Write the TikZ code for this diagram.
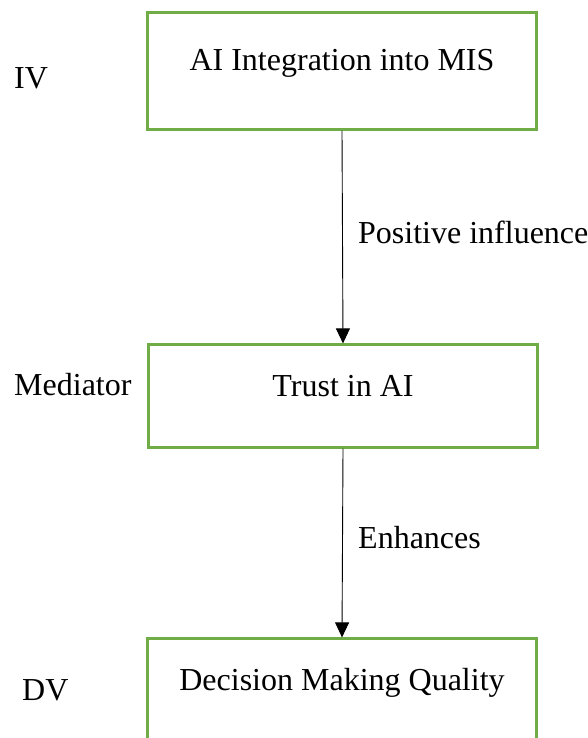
\documentclass[tikz,border=0pt]{standalone}
\usepackage{fontspec}
\setmainfont{Liberation Serif}
\usetikzlibrary{arrows.meta,positioning}
\definecolor{boxgreen}{RGB}{112,173,71}

\begin{document}
\begin{tikzpicture}[
    x=1pt, y=-1pt,
    >={Triangle[length=15pt,width=14pt]},
    box/.style={draw=boxgreen, line width=2.2pt, minimum width=389pt,
      font=\fontsize{32}{38}\selectfont, text height=22pt, inner sep=0pt},
    tag/.style={font=\fontsize{32}{38}\selectfont, anchor=west, inner sep=0pt},
    arw/.style={->, line width=0.9pt},
  ]
    \useasboundingbox (0,0) rectangle (588,738);

    % Boxes
    \node[box, minimum height=117pt, text depth=23pt] (ai) at (342,71) {AI Integration into MIS};
    \node[box, minimum height=103pt, text depth=21pt] (trust) at (343,396) {Trust in AI};
    \node[box, minimum height=103pt, text depth=21pt] (dmq) at (342,690) {Decision Making Quality};

    % Arrows between boxes
    \draw[arw] (ai.south) -- (trust.north);
    \draw[arw] (trust.south) -- (dmq.north);

    % Role labels
    \node[tag] (iv) at (14,78) {IV};
    \node[tag] (med) at (14,385) {Mediator};
    \node[tag] (dv) at (22,690) {DV};

    % Arrow labels
    \node[tag] (pos) at (358,232) {Positive influence};
    \node[tag] (enh) at (358,538) {Enhances};

  \end{tikzpicture}
\end{document}
